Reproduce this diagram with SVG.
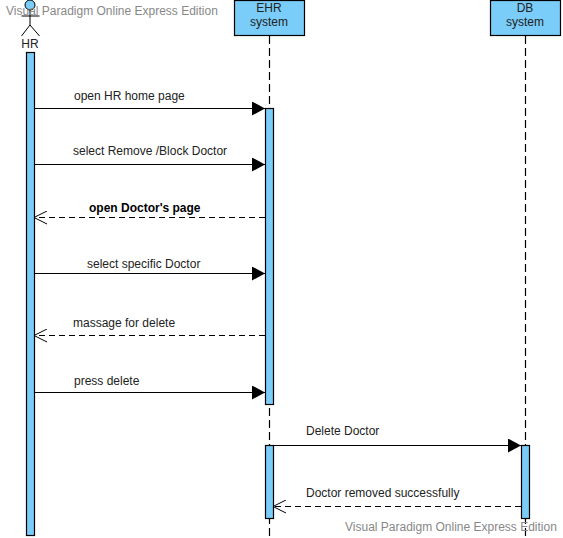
<svg xmlns="http://www.w3.org/2000/svg" width="563" height="538" viewBox="0 0 563 538">
<style>
text{font-family:"Liberation Sans",Arial,sans-serif;font-size:12px;fill:#222}
.c{text-anchor:middle}
.wm{fill:#888}
.box{fill:#7acdf8;stroke:#000;stroke-width:1.2}
.life{stroke:#000;stroke-width:1.2;stroke-dasharray:8 4;fill:none}
.msg{stroke:#000;stroke-width:1.2;fill:none}
.dash{stroke-dasharray:6 4}
</style>
<defs>
<marker id="solid" markerUnits="userSpaceOnUse" markerWidth="14" markerHeight="14" refX="13" refY="7" orient="auto"><path d="M0 0L13 7L0 14Z" fill="#000"/></marker>
<marker id="open" markerUnits="userSpaceOnUse" markerWidth="14" markerHeight="14" refX="13" refY="7" orient="auto"><path d="M0 0.5L13 7L0 13.5" fill="none" stroke="#000" stroke-width="1"/></marker>
</defs>
<g id="lifelines">
<line class="life" x1="269.500" y1="36" x2="269.500" y2="538"/>
<line class="life" x1="525.500" y1="36" x2="525.500" y2="538"/>
</g>
<g id="actor-HR">
<circle cx="30" cy="5" r="5" fill="#7acdf8" stroke="#000" stroke-width="1"/>
<path d="M30 10V25M21.500 16H39.500M30 25L21.500 36M30 25L39.500 36" fill="none" stroke="#000" stroke-width="1"/>
<text class="c" x="30" y="48">HR</text>
<rect class="box" x="26.500" y="52.500" width="8" height="483"/>
</g>
<g id="node-EHR">
<rect class="box" x="234.500" y="0.500" width="70" height="35"/>
<text class="c" x="269" y="12">EHR</text>
<text class="c" x="269" y="26">system</text>
<rect class="box" x="265.500" y="108.500" width="8" height="296"/>
<rect class="box" x="265.500" y="445.500" width="8" height="73"/>
</g>
<g id="node-DB">
<rect class="box" x="490.500" y="0.500" width="70" height="35"/>
<text class="c" x="525" y="12">DB</text>
<text class="c" x="525" y="26">system</text>
<rect class="box" x="521.500" y="445.500" width="8" height="73"/>
</g>
<g id="connectors">
<line class="msg" x1="34" y1="108.500" x2="265" y2="108.500" marker-end="url(#solid)"/>
<line class="msg" x1="34" y1="164.500" x2="265" y2="164.500" marker-end="url(#solid)"/>
<line class="msg dash" x1="265" y1="217.500" x2="34" y2="217.500" marker-end="url(#open)"/>
<line class="msg" x1="34" y1="273.500" x2="265" y2="273.500" marker-end="url(#solid)"/>
<line class="msg dash" x1="265" y1="335.500" x2="34" y2="335.500" marker-end="url(#open)"/>
<line class="msg" x1="34" y1="392.500" x2="265" y2="392.500" marker-end="url(#solid)"/>
<line class="msg" x1="273" y1="445.500" x2="521" y2="445.500" marker-end="url(#solid)"/>
<line class="msg dash" x1="521" y1="506.500" x2="273" y2="506.500" marker-end="url(#open)"/>
</g>
<g id="labels">
<text x="74" y="100">open HR home page</text>
<text x="73" y="155">select Remove /Block Doctor</text>
<text x="89" y="212" font-weight="bold" style="font-weight:bold;fill:#000">open Doctor's page</text>
<text x="87" y="268">select specific Doctor</text>
<text x="73" y="327">massage for delete</text>
<text x="74" y="385">press delete</text>
<text x="306" y="435">Delete Doctor</text>
<text x="306" y="497">Doctor removed successfully</text>
</g>
<g id="watermarks">
<text class="wm" x="6" y="15">Visual Paradigm Online Express Edition</text>
<text class="wm" x="345" y="531">Visual Paradigm Online Express Edition</text>
</g>
</svg>
